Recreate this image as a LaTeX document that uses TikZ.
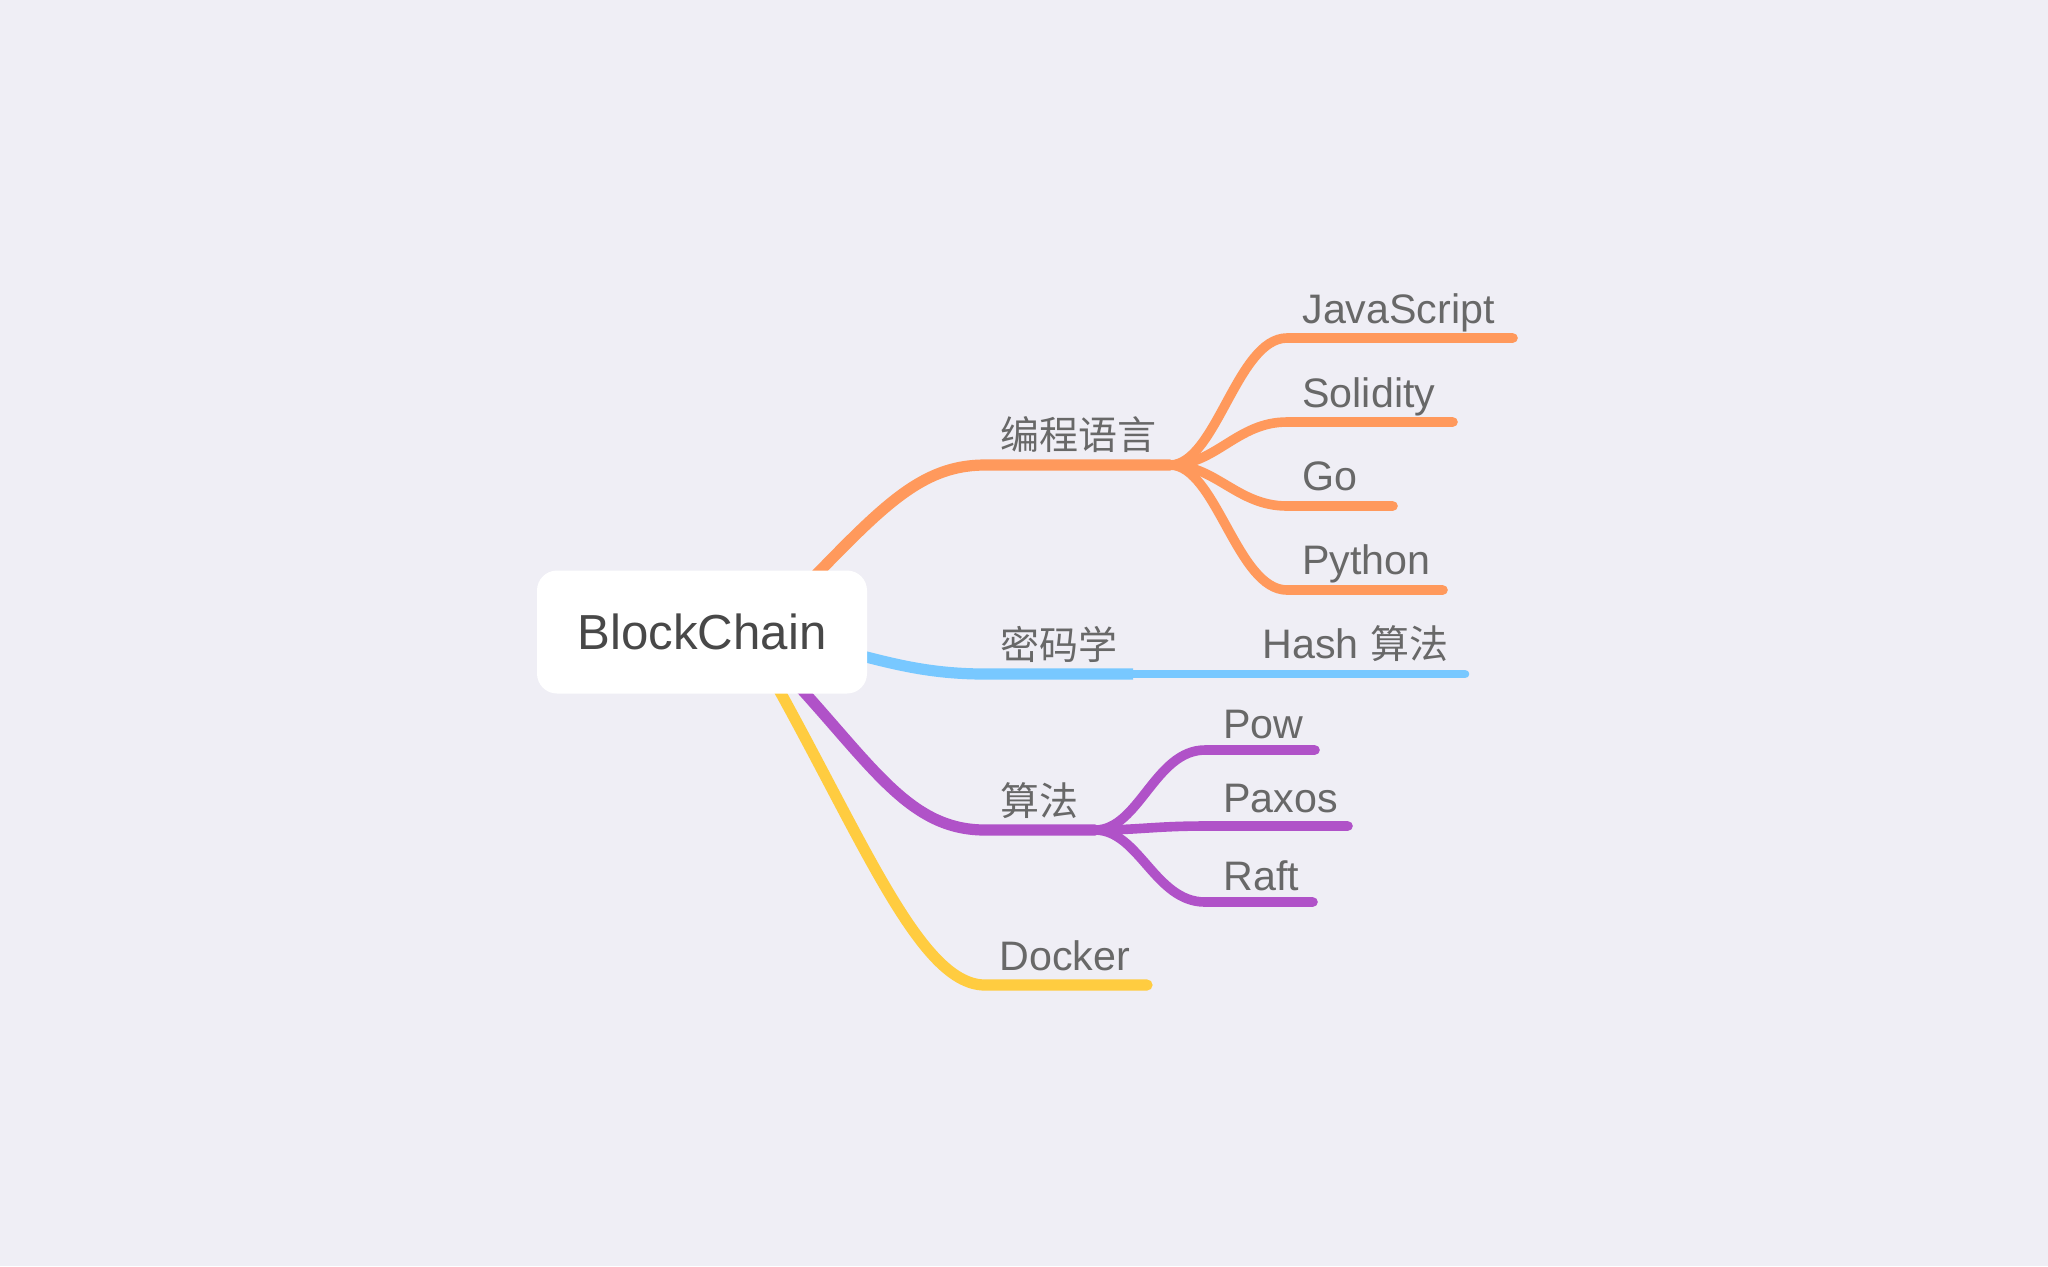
\documentclass[tikz,border=0pt]{standalone}
\usepackage{fontspec}
\setmainfont{Liberation Sans}
\newfontfamily\cjk{Noto Sans CJK SC}
\definecolor{bgc}{HTML}{EFEEF5}
\definecolor{orangeb}{HTML}{FF995C}
\definecolor{blueb}{HTML}{78C8FF}
\definecolor{purpleb}{HTML}{B052C8}
\definecolor{yellowb}{HTML}{FFCC40}
\definecolor{labelgray}{HTML}{686868}
\definecolor{rootgray}{HTML}{484848}
\begin{document}
\begin{tikzpicture}[x=0.5pt,y=-0.5pt,
  branch/.style={line width=5.6pt, line cap=round},
  twig/.style={line width=4.8pt, line cap=round},
  lbl/.style={anchor=base west, inner sep=0pt, text=labelgray, font=\fontsize{20.6pt}{24pt}\selectfont},
  clbl/.style={anchor=base west, inner sep=0pt, text=labelgray, font=\cjk\fontsize{19.5pt}{24pt}\selectfont},
  rootbox/.style={fill=white, rounded corners=10pt, minimum width=165pt, minimum height=61.5pt, inner sep=0pt, text=rootgray, font=\fontsize{24.6pt}{28pt}\selectfont}]
\fill[bgc] (0,0) rectangle (2048,1266);
\useasboundingbox (0,0) rectangle (2048,1266);
% coordinates
\coordinate (o0) at (760,632);
\coordinate (oh) at (1170,465);
\coordinate (b0) at (820,645);
\coordinate (bh) at (1133,674);
\coordinate (p0) at (755,640);
\coordinate (ph) at (1095,830);
\coordinate (y0) at (745,630);
\coordinate (jsE) at (1513,338);
\coordinate (soE) at (1453,422);
\coordinate (goE) at (1393,506);
\coordinate (pyE) at (1443,590);
\coordinate (haE) at (1465,674);
\coordinate (poE) at (1315,750);
\coordinate (paE) at (1348,826);
\coordinate (raE) at (1313,902);
\coordinate (doE) at (1147,985);
% orange branch
\draw[branch, orangeb] (o0) .. controls (870,522) and (910,465) .. (985,465) -- (oh);
\draw[twig, orangeb] (oh) .. controls (1216,465) and (1237,338) .. (1287,338) -- (jsE);
\draw[twig, orangeb] (oh) .. controls (1216,465) and (1237,422) .. (1287,422) -- (soE);
\draw[twig, orangeb] (oh) .. controls (1216,465) and (1237,506) .. (1287,506) -- (goE);
\draw[twig, orangeb] (oh) .. controls (1216,465) and (1237,590) .. (1287,590) -- (pyE);
% blue branch
\draw[line width=5.6pt, line cap=butt, blueb] (b0) .. controls (880,660) and (920,674) .. (985,674) -- (bh);
\draw[twig, blueb, line width=4.3pt] (bh) -- (haE);
% purple branch
\draw[branch, purpleb] (p0) .. controls (865,750) and (900,830) .. (985,830) -- (ph);
\draw[twig, purpleb] (ph) .. controls (1139,830) and (1155,750) .. (1205,750) -- (poE);
\draw[twig, purpleb] (ph) .. controls (1139,830) and (1155,826) .. (1205,826) -- (paE);
\draw[twig, purpleb] (ph) .. controls (1139,830) and (1155,902) .. (1205,902) -- (raE);
% yellow branch
\draw[branch, yellowb] (y0) .. controls (855,817) and (915,985) .. (985,985) -- (doE);
% root
\node[rootbox] (root) at (702,632) {BlockChain};
% labels
\node[clbl] (lang) at (1000,449) {编程语言};
\node[clbl] (crypto) at (1000,659) {密码学};
\node[clbl] (algo) at (1000,815) {算法};
\node[lbl] (docker) at (999,970) {Docker};
\node[lbl] (js) at (1302,323) {JavaScript};
\node[lbl] (sol) at (1302,407) {Solidity};
\node[lbl] (go) at (1302,490) {Go};
\node[lbl] (py) at (1302,574) {Python};
\node[lbl] (hash) at (1262,658) {Hash {\cjk\fontsize{19.5pt}{24pt}\selectfont 算法}};
\node[lbl] (pow) at (1223,738) {Pow};
\node[lbl] (paxos) at (1223,812) {Paxos};
\node[lbl] (raft) at (1223,890) {Raft};
\end{tikzpicture}
\end{document}
